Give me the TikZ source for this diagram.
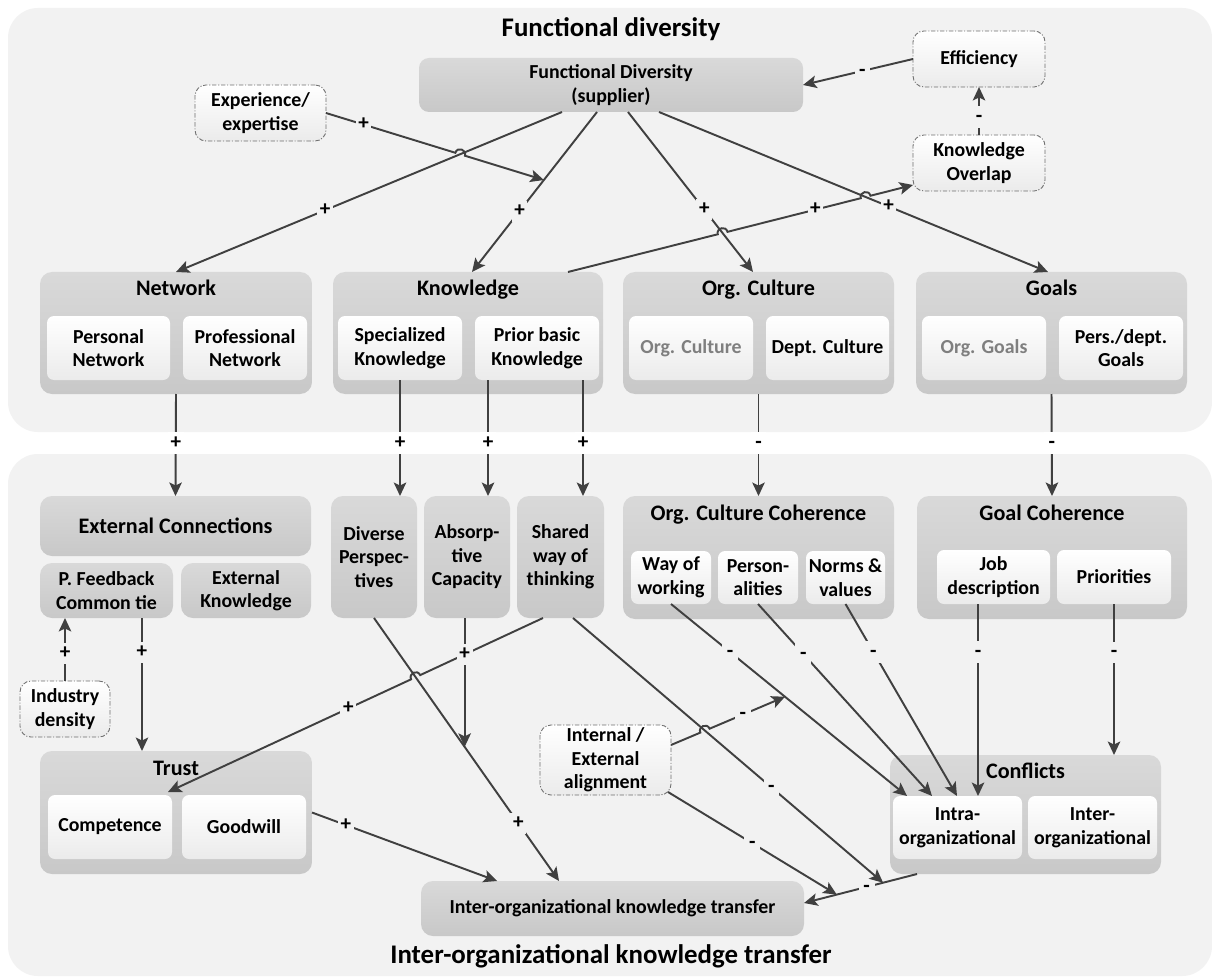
\documentclass[tikz,border=0pt]{standalone}
\usepackage{fontspec}
\setmainfont{Carlito}
\usetikzlibrary{arrows.meta,calc}

\definecolor{panelbg}{HTML}{F2F2F2}
\definecolor{linecol}{HTML}{404040}
\definecolor{grptop}{HTML}{D9D9D9}
\definecolor{grpbot}{HTML}{C8C8C8}
\definecolor{boxbot}{HTML}{EBEBEB}
\definecolor{mutedtext}{HTML}{7F7F7F}
\definecolor{dashcol}{HTML}{6E6E6E}

\newcommand{\fsz}[2]{\fontsize{#1}{#2}\selectfont}

\begin{document}
\begin{tikzpicture}[x=0.02cm,y=-0.02cm,
  every node/.style={font=\bfseries\fsz{11.3}{13.4}},
  area/.style n args={4}{at={({(#1+#3)/2},{(#2+#4)/2})}, anchor=center,
    minimum width={(#3-#1)*0.02cm}, minimum height={(#4-#2)*0.02cm}},
  panel/.style={fill=panelbg, rounded corners=0.6cm},
  grp/.style={inner sep=0pt, outer sep=0pt, rounded corners=0.24cm, top color=grptop, bottom color=grpbot, align=center},
  inbox/.style={inner sep=0pt, outer sep=0pt, rounded corners=0.14cm, top color=white, bottom color=boxbot, align=center},
  dbox/.style={inbox, rounded corners=0.22cm, draw=dashcol, line width=0.5pt, dash pattern=on 2.5pt off 1pt on 0.6pt off 1pt},
  gtitle/.style={anchor=base, font=\bfseries\fsz{12.6}{14}},
  mtitle/.style={anchor=base, font=\bfseries\fsz{15.3}{17}},
  arr/.style={draw=linecol, line width=1.1pt, -{Stealth[length=2.7mm,width=2.5mm,inset=0.6mm]}},
  lab/.style={fill=panelbg, inner xsep=1.5pt, inner ysep=0.5pt, minimum width=9pt,
    text height=8.5pt, text depth=2.5pt, font=\bfseries\fsz{12}{12}},
  labw/.style={lab, fill=white},
  jumpl/.style={bend left=90, looseness=1.7},
  jumpr/.style={bend right=90, looseness=1.7},
]
\useasboundingbox (0,0) rectangle (1212,976);
\fill[white] (0,0) rectangle (1212,976);

% two background panels
\path[panel] (8,8) rectangle (1212,432);
\path[panel] (8,454) rectangle (1212,976);

% ---------- upper panel ----------
\node[mtitle] (ttop) at (611,37) {Functional diversity};
\node[grp, rounded corners=0.2cm, area={419}{58}{803}{112}] (fd) {Functional Diversity\\(supplier)};
\node[dbox, area={913}{31}{1045}{87}] (eff) {Efficiency};
\node[dbox, area={913}{135}{1045}{191}] (kov) {Knowledge\\Overlap};
\node[dbox, area={195}{85}{326}{141}] (experience) {Experience/\\expertise};

\node[grp, area={40}{272}{312}{394}] (network) {};
\node[gtitle] (networkT) at (176,296) {Network};
\node[inbox, area={47}{316}{170}{380}] (pn) {Personal\\Network};
\node[inbox, area={183}{316}{307}{380}] (prn) {Professional\\Network};

\node[grp, area={333}{272}{603}{394}] (knowledge) {};
\node[gtitle] (knowledgeT) at (468,296) {Knowledge};
\node[inbox, area={338}{316}{462}{380}] (sk) {Specialized\\Knowledge};
\node[inbox, area={475}{316}{599}{380}] (pbk) {Prior basic\\Knowledge};

\node[grp, area={623}{272}{894}{394}] (orgcult) {};
\node[gtitle] (orgcultT) at (758.5,296) {Org. Culture};
\node[inbox, text=mutedtext, area={629}{316}{753}{380}] (oc) {Org. Culture};
\node[inbox, area={766}{316}{889}{380}] (dc) {Dept. Culture};

\node[grp, area={916}{272}{1187}{394}] (goals) {};
\node[gtitle] (goalsT) at (1051.5,296) {Goals};
\node[inbox, text=mutedtext, area={922}{316}{1046}{380}] (og) {Org. Goals};
\node[inbox, area={1059}{316}{1183}{380}] (pg) {Pers./dept.\\Goals};

% ---------- lower panel ----------
\node[grp, font=\bfseries\fsz{12.6}{14}, area={40}{496}{311}{556}] (extc) {External Connections};
\node[grp, area={40}{563}{173}{618}] (pfb) {P. Feedback\\Common tie};
\node[grp, area={181}{563}{311}{618}] (ek) {External\\Knowledge};
\node[grp, area={331}{496}{417}{618}] (dp) {Diverse\\Perspec-\\tives};
\node[grp, area={424}{496}{510}{618}] (ac) {Absorp-\\tive\\Capacity};
\node[grp, area={517}{496}{604}{618}] (sw) {Shared\\way of\\thinking};

\node[grp, area={623}{496}{894}{619}] (occ) {};
\node[gtitle] (occT) at (758.5,520) {Org. Culture Coherence};
\node[inbox, area={631}{551}{711}{604}] (ww) {Way of\\working};
\node[inbox, area={718}{551}{798}{604}] (pers) {Person-\\alities};
\node[inbox, area={806}{551}{885}{604}] (nv) {Norms \&\\values};

\node[grp, area={917}{496}{1187}{619}] (gc) {};
\node[gtitle] (gcT) at (1052,520) {Goal Coherence};
\node[inbox, area={937}{550}{1050}{604}] (jd) {Job\\description};
\node[inbox, area={1057}{550}{1171}{604}] (pri) {Priorities};

\node[dbox, area={20}{681}{110}{737}] (ind) {Industry\\density};

\node[grp, area={40}{751}{312}{874}] (trust) {};
\node[gtitle] (trustT) at (176,775) {Trust};
\node[inbox, area={48}{795}{172}{859}] (comp) {Competence};
\node[inbox, area={182}{795}{306}{859}] (gw) {Goodwill};

\node[dbox, area={540}{725}{671}{795}] (iea) {Internal /\\External\\alignment};

\node[grp, area={890}{755}{1161}{874}] (conf) {};
\node[gtitle] (confT) at (1025.5,778) {Conflicts};
\node[inbox, area={893}{796}{1022}{859}] (intra) {Intra-\\organizational};
\node[inbox, area={1028}{796}{1157}{859}] (inter) {Inter-\\organizational};

\node[grp, area={421}{881}{804}{936}] (iokt) {Inter-organizational knowledge transfer};
\node[mtitle] (tbot) at (611,963) {Inter-organizational knowledge transfer};

% ---------- connectors, upper panel ----------
\coordinate (fdNet) at ([xshift=-0.98cm]fd.south);
\coordinate (fdKn) at ([xshift=-0.28cm]fd.south);
\coordinate (fdOc) at ([xshift=0.34cm]fd.south);
\coordinate (fdGo) at ([xshift=0.96cm]fd.south);
\coordinate (netIn) at (network.north);
\coordinate (knIn) at ([xshift=0.08cm]knowledge.north);
\coordinate (ocIn) at ([xshift=-0.11cm]orgcult.north);
\coordinate (goIn) at ([xshift=-0.07cm]goals.north);
\coordinate (knOut) at ([xshift=2.0cm]knowledge.north);
\coordinate (kovIn) at ([yshift=-0.44cm]kov.west);
\coordinate (expOut) at (experience.east);
\coordinate (expTgt) at ($(fdKn)!0.425!(knIn)$);

\draw[arr] (eff.west) -- (fd.east) node[lab,pos=0.46]{-};
\draw[arr] (kov.north) -- (eff.south) node[lab,pos=0.375]{-};
\draw[arr] (fdNet) -- (netIn) node[lab,pos=0.614]{+};
\draw[arr] (fdKn) -- (knIn) node[lab,pos=0.62]{+};
\draw[arr] (fdOc) -- (ocIn) node[lab,pos=0.61]{+};
\draw[arr] (fdGo) -- (goIn) node[lab,pos=0.59]{+};

\coordinate (j1) at (intersection of expOut--expTgt and fdNet--netIn);
\draw[arr] (expOut) -- ($(j1)!0.1cm!(expOut)$) node[lab,pos=0.29]{+}
  to[jumpl] ($(j1)!0.1cm!(expTgt)$) -- (expTgt);

\coordinate (j2) at (intersection of knOut--kovIn and fdOc--ocIn);
\coordinate (j3) at (intersection of knOut--kovIn and fdGo--goIn);
\draw[arr] (knOut) -- ($(j2)!0.1cm!(knOut)$) to[jumpl] ($(j2)!0.1cm!(kovIn)$)
  -- ($(j3)!0.1cm!(knOut)$) node[lab,pos=0.66]{+}
  to[jumpl] ($(j3)!0.1cm!(kovIn)$) -- (kovIn);

% ---------- connectors across the gap ----------
\coordinate (pbkA) at ([xshift=-0.98cm]pbk.south);
\coordinate (pbkB) at ([xshift=0.92cm]pbk.south);
\draw[arr] (network.south) -- (extc.north) node[labw,pos=0.48]{+};
\draw[arr] (sk.south) -- (sk.south |- dp.north) node[labw,pos=0.543]{+};
\draw[arr] (pbkA) -- (pbkA |- ac.north) node[labw,pos=0.543]{+};
\draw[arr] (pbkB) -- (pbkB |- sw.north) node[labw,pos=0.543]{+};
\draw[arr] (orgcult.south) -- (occ.north) node[labw,pos=0.48]{-};
\draw[arr] (goals.south) -- (gc.north) node[labw,pos=0.48]{-};

% ---------- connectors, lower panel ----------
\draw[arr] (ind.north) -- (ind.north |- pfb.south) node[lab,pos=0.44]{+};
\coordinate (pfbOut) at ([xshift=0.71cm]pfb.south);
\draw[arr] (pfbOut) -- (pfbOut |- trust.north) node[lab,pos=0.26]{+};

\coordinate (dpOut) at (dp.south);
\coordinate (ioDp) at ([xshift=-1.07cm]iokt.north);
\draw[arr] (dpOut) -- (ioDp) node[lab,pos=0.78]{+};

\coordinate (swA) at ([xshift=-0.35cm]sw.south);
\coordinate (compIn) at ([xshift=-0.08cm,yshift=0.06cm]comp.north east);
\coordinate (j4) at (intersection of swA--compIn and dpOut--ioDp);
\draw[arr] (swA) -- ($(j4)!0.1cm!(swA)$) to[jumpr] ($(j4)!0.1cm!(compIn)$)
  -- (compIn) node[lab,pos=0.258]{+};

\coordinate (acTgt) at ($(dpOut)!0.49!(ioDp)$);
\draw[arr] (acTgt |- ac.south) -- (acTgt) node[lab,pos=0.28]{+};

\draw[arr] (trust.east) -- ([xshift=-2.31cm]iokt.north) node[lab,pos=0.183]{+};

\coordinate (wwOut) at (ww.south);
\coordinate (wwIn) at ([xshift=0.28cm]intra.north west);
\draw[arr] (wwOut) -- (wwIn) node[lab,pos=0.25]{-};
\draw[arr] (pers.south) -- ([xshift=0.78cm]intra.north west) node[lab,pos=0.26]{-};
\draw[arr] (nv.south) -- ([xshift=1.28cm]intra.north west) node[lab,pos=0.25]{-};
\coordinate (jdOut) at ([xshift=-0.31cm]jd.south);
\draw[arr] (jdOut) -- (jdOut |- intra.north) node[lab,pos=0.25]{-};
\draw[arr] (pri.south) -- (pri.south |- conf.north) node[lab,pos=0.32]{-};

\coordinate (cfOut) at ([xshift=0.54cm]conf.south west);
\coordinate (ioCf) at ([yshift=0.11cm]iokt.east);
\draw[arr] (cfOut) -- (ioCf) node[lab,pos=0.446]{-};
\coordinate (modA) at ($(cfOut)!0.30!(ioCf)$);
\coordinate (modB) at ($(cfOut)!0.71!(ioCf)$);

\coordinate (swB) at ([xshift=0.25cm]sw.south);
\draw[arr] (swB) -- (modA) node[lab,pos=0.64]{-};

\coordinate (ieaU) at ([yshift=0.3cm]iea.east);
\coordinate (wwMod) at ($(wwOut)!0.483!(wwIn)$);
\coordinate (j5) at (intersection of ieaU--wwMod and swB--modA);
\draw[arr] (ieaU) -- ($(j5)!0.1cm!(ieaU)$) to[jumpl] ($(j5)!0.1cm!(wwMod)$)
  -- (wwMod) node[lab,pos=0.44]{-};
\coordinate (ieaL) at ([xshift=-0.06cm,yshift=0.06cm]iea.south east);
\draw[arr] (ieaL) -- (modB) node[lab,pos=0.5]{-};

\end{tikzpicture}
\end{document}
